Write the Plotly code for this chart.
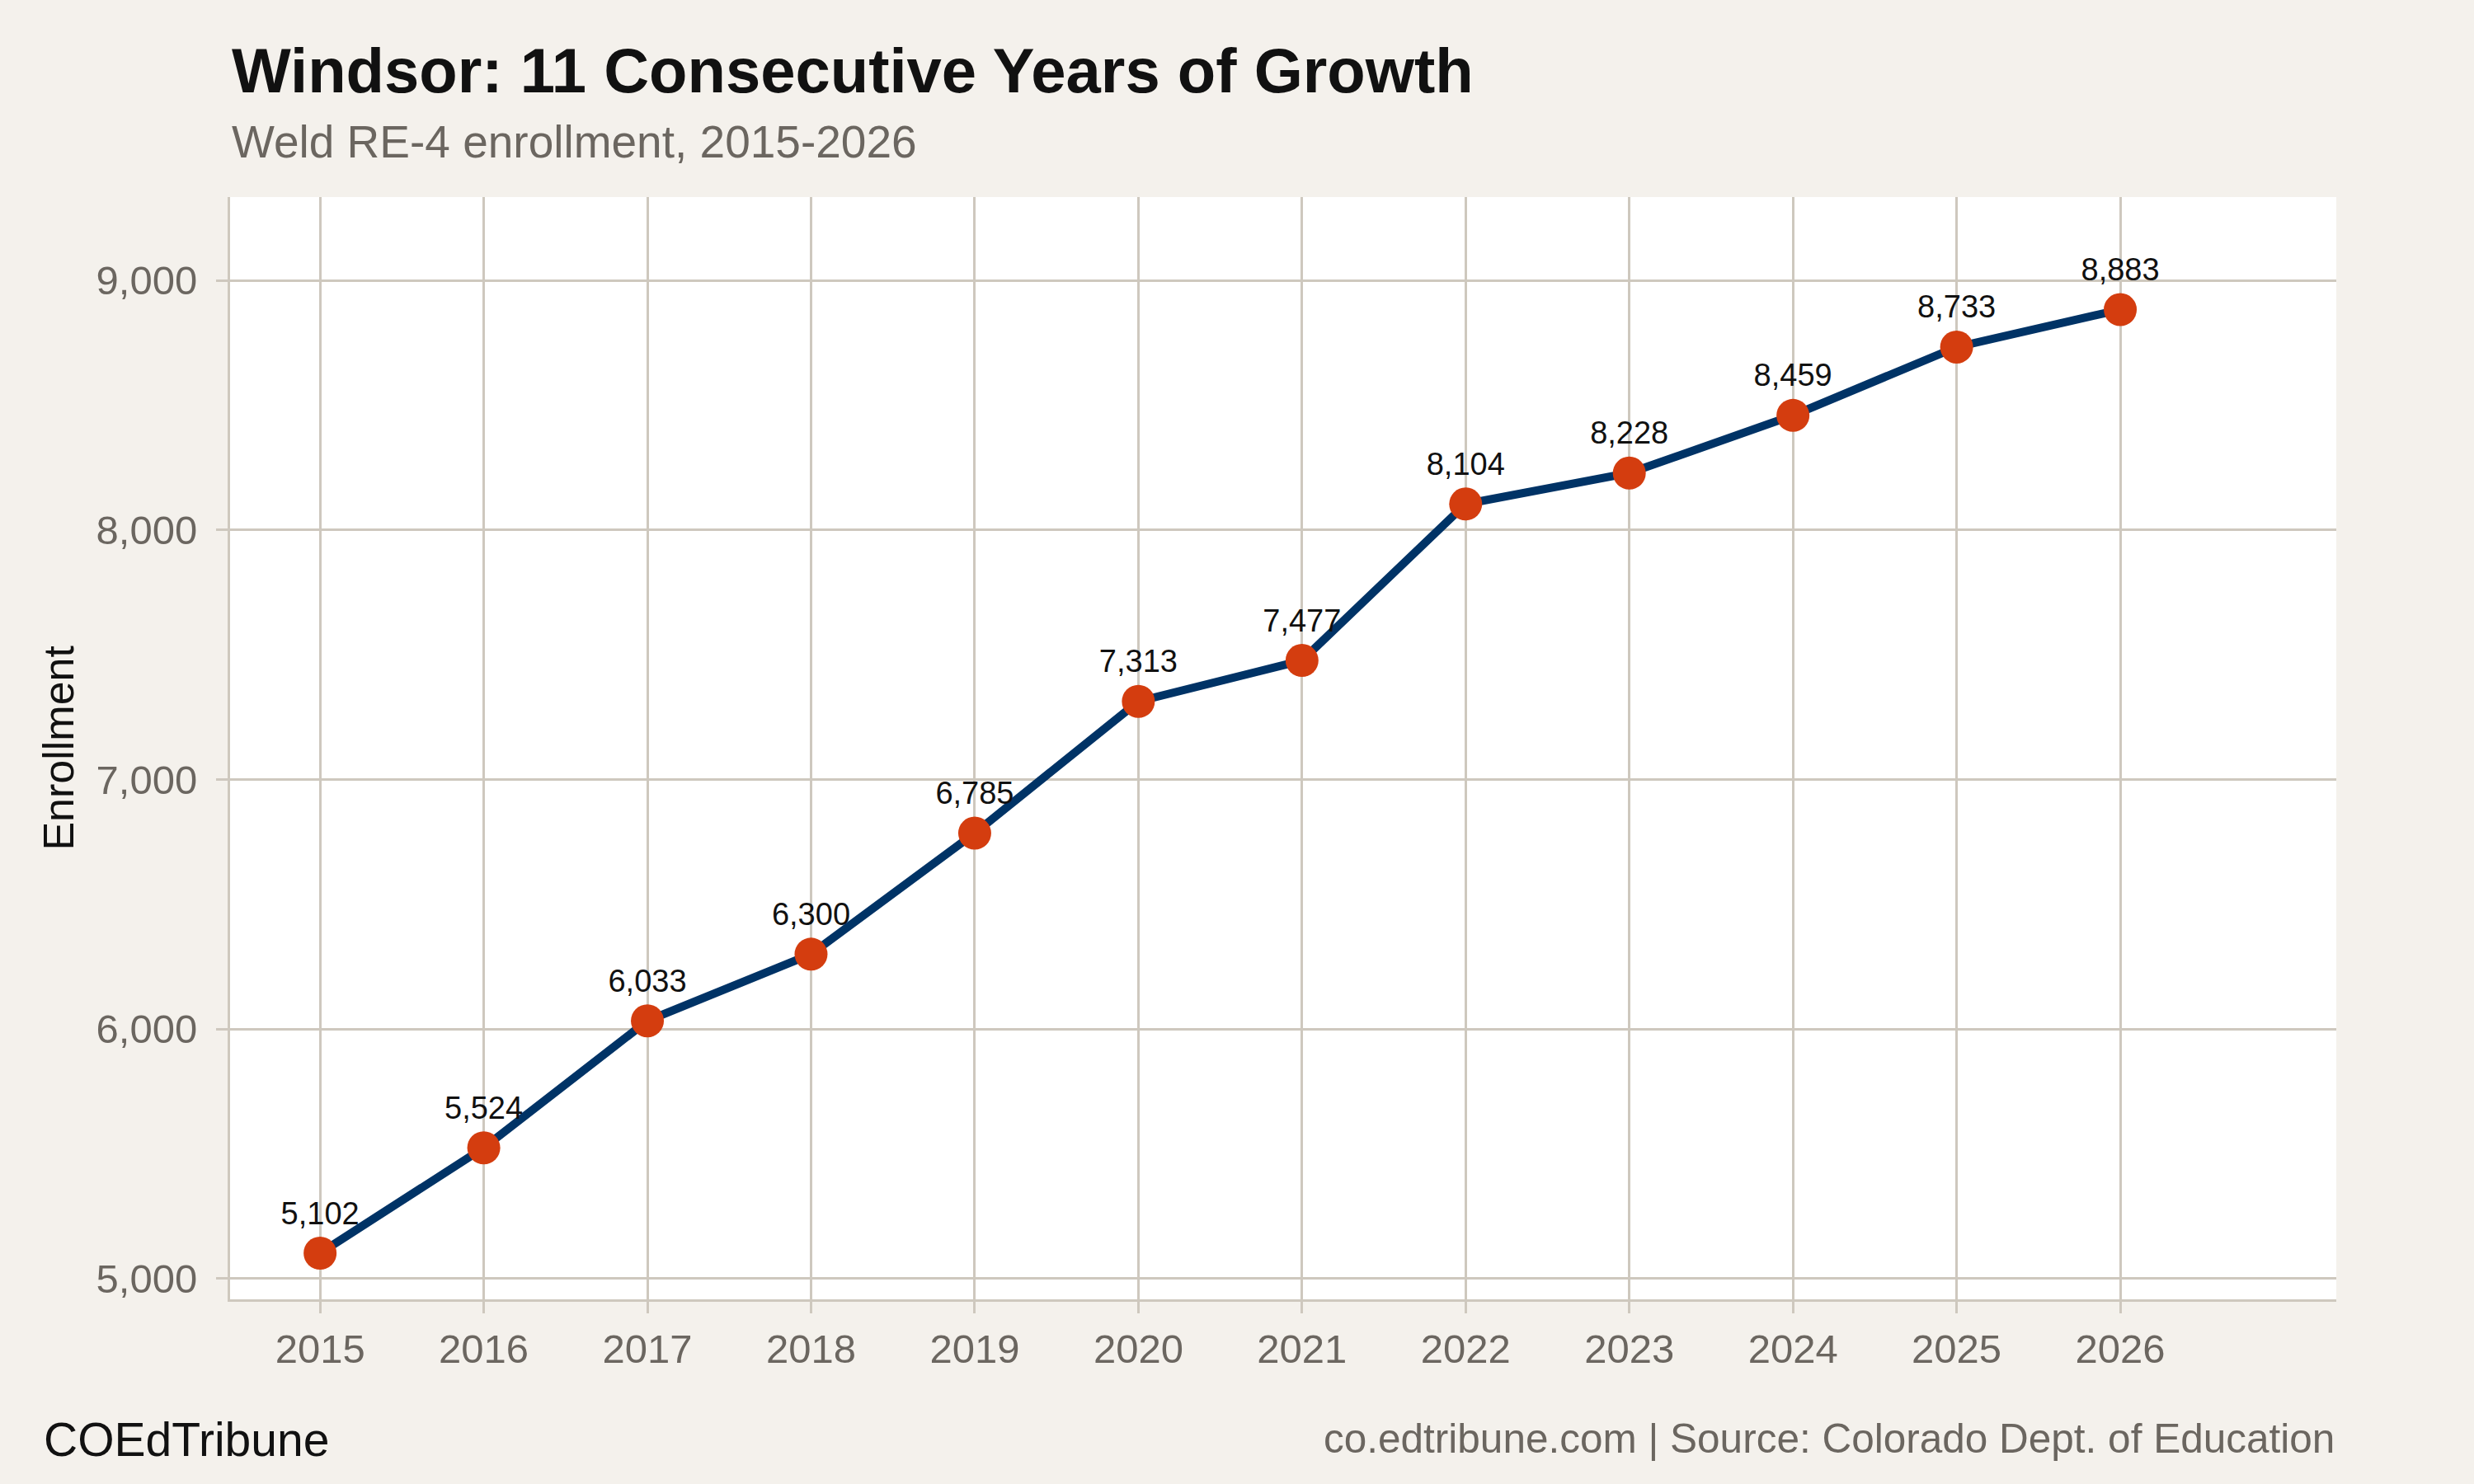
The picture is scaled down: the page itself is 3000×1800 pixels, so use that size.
import plotly.graph_objects as go

years = [2015, 2016, 2017, 2018, 2019, 2020, 2021, 2022, 2023, 2024, 2025, 2026]
enrollment = [5102, 5524, 6033, 6300, 6785, 7313, 7477, 8104, 8228, 8459, 8733, 8883]
y_ticks = [5000, 6000, 7000, 8000, 9000]

FONT = "Liberation Sans, Arial, Helvetica, sans-serif"
GRID = "#cec8be"
GRAY = "#6b6660"

fig = go.Figure()
fig.add_trace(go.Scatter(
    x=years, y=enrollment,
    mode="lines+markers+text",
    line=dict(color="#003366", width=10),
    marker=dict(color="#d43d0f", size=40),
    text=[f"{v:,}" for v in enrollment],
    textposition="top center",
    textfont=dict(family=FONT, size=38, color="#111111"),
    showlegend=False,
    cliponaxis=False,
))

fig.update_layout(
    width=3000, height=1800,
    paper_bgcolor="#f4f1ec",
    plot_bgcolor="#ffffff",
    margin=dict(l=279, r=167, t=239, b=224),
    font=dict(family=FONT),
    xaxis=dict(
        range=[2014.45, 2027.32],
        tickmode="array", tickvals=years, ticktext=[str(y) for y in years],
        showgrid=True, gridcolor=GRID, gridwidth=2.5,
        showline=True, linecolor=GRID, linewidth=3,
        ticks="outside", ticklen=14, tickwidth=2.5, tickcolor=GRID,
        tickfont=dict(family=FONT, size=49, color=GRAY),
        ticklabelstandoff=1,
        zeroline=False,
    ),
    yaxis=dict(
        range=[4917, 9334],
        tickmode="array", tickvals=y_ticks, ticktext=[f"{v:,}" for v in y_ticks],
        showgrid=True, gridcolor=GRID, gridwidth=2.5,
        showline=True, linecolor=GRID, linewidth=3,
        ticks="outside", ticklen=14, tickwidth=2.5, tickcolor=GRID,
        tickfont=dict(family=FONT, size=49, color=GRAY),
        ticklabelstandoff=13,
        zeroline=False,
    ),
    annotations=[
        dict(text="<b>Windsor: 11 Consecutive Years of Growth</b>", xref="paper", yref="paper",
             x=0, y=1.115, xanchor="left", yanchor="middle", showarrow=False,
             font=dict(family=FONT, size=76, color="#111111")),
        dict(text="Weld RE-4 enrollment, 2015-2026", xref="paper", yref="paper",
             x=0, y=1.050, xanchor="left", yanchor="middle", showarrow=False,
             font=dict(family=FONT, size=55, color=GRAY)),
        dict(text="Enrollment", xref="paper", yref="paper",
             x=-0.0818, y=0.5, xanchor="center", yanchor="middle", textangle=-90, showarrow=False,
             font=dict(family=FONT, size=52, color="#111111")),
        dict(text="COEdTribune", xref="paper", yref="paper",
             x=-0.0892, y=-0.127, xanchor="left", yanchor="middle", showarrow=False,
             font=dict(family=FONT, size=57, color="#111111")),
        dict(text="co.edtribune.com | Source: Colorado Dept. of Education", xref="paper", yref="paper",
             x=1.0, y=-0.126, xanchor="right", yanchor="middle", showarrow=False,
             font=dict(family=FONT, size=49.5, color=GRAY)),
    ],
)

fig.write_html("out.html", config={"displayModeBar": False},
               post_script="document.body.style.margin='0';")
